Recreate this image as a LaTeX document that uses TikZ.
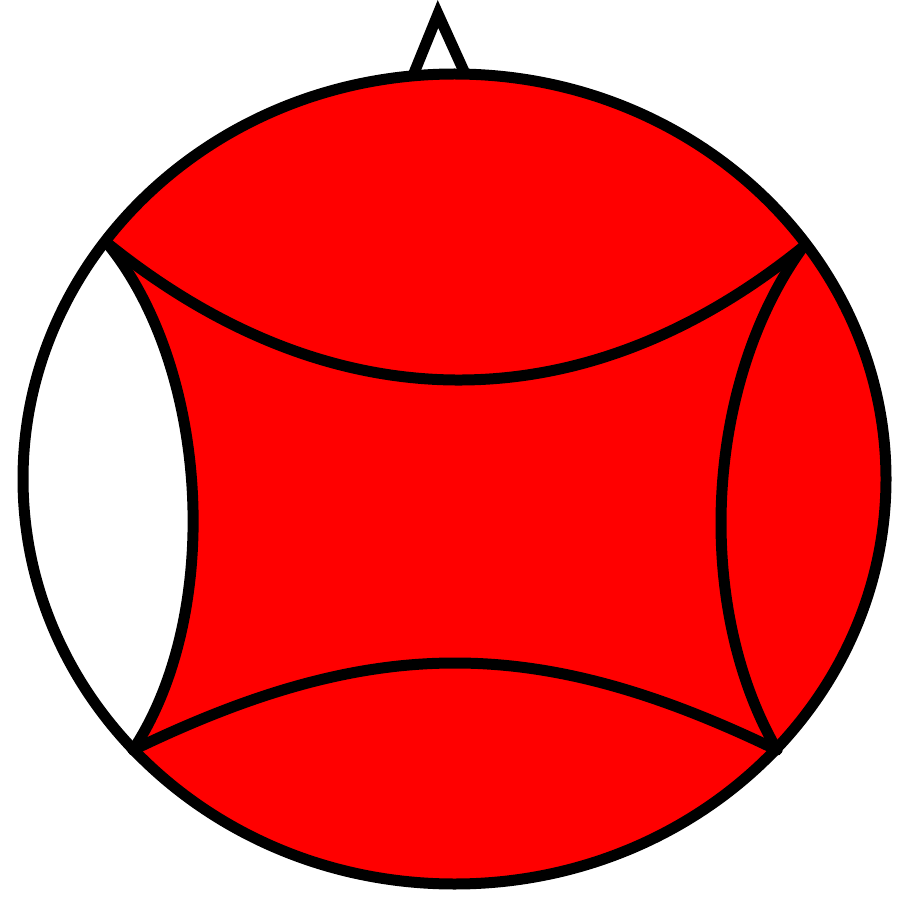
\documentclass[tikz,border=0pt]{standalone}
\usepackage{tikz}
\usetikzlibrary{calc}
\usepackage{xcolor}
\definecolor{BallRed}{RGB}{255, 0, 0}

\begin{document}
\begin{tikzpicture}[x=0.02cm, y=-0.02cm, line width=0.22cm,
    seam/.style={black, line width=0.22cm, line cap=round}]
      \useasboundingbox (0,0) rectangle (900,905);
      % Corners where the seams meet the rim
      \coordinate (ul) at (107,243);
      \coordinate (ur) at (803,247);
      \coordinate (ll) at (133,750);
      \coordinate (lr) at (777,750);
      % Hook on top
      \draw[black, fill=white, line join=miter] (412,78) -- (438,14) -- (467,78);
      % Ball body
      \fill[BallRed] (454.5,479) ellipse [x radius=431.5, y radius=405];
      % White left patch
      \begin{scope}
        \clip (454.5,479) ellipse [x radius=431.5, y radius=405];
        \fill[white] (ul) .. controls (210,369) and (223,614) .. (ll) -- (0,750) -- (0,243) -- cycle;
      \end{scope}
      % Seams
      \draw[seam] (ul) .. controls (330,423) and (580,427) .. (ur);
      \draw[seam] (ll) .. controls (373,634) and (537,634) .. (lr);
      \draw[seam] (ul) .. controls (210,369) and (223,614) .. (ll);
      \draw[seam] (ur) .. controls (705,382) and (693,605) .. (lr);
      % Rim
      \draw[black] (454.5,479) ellipse [x radius=431.5, y radius=405];
    \end{tikzpicture}
\end{document}
